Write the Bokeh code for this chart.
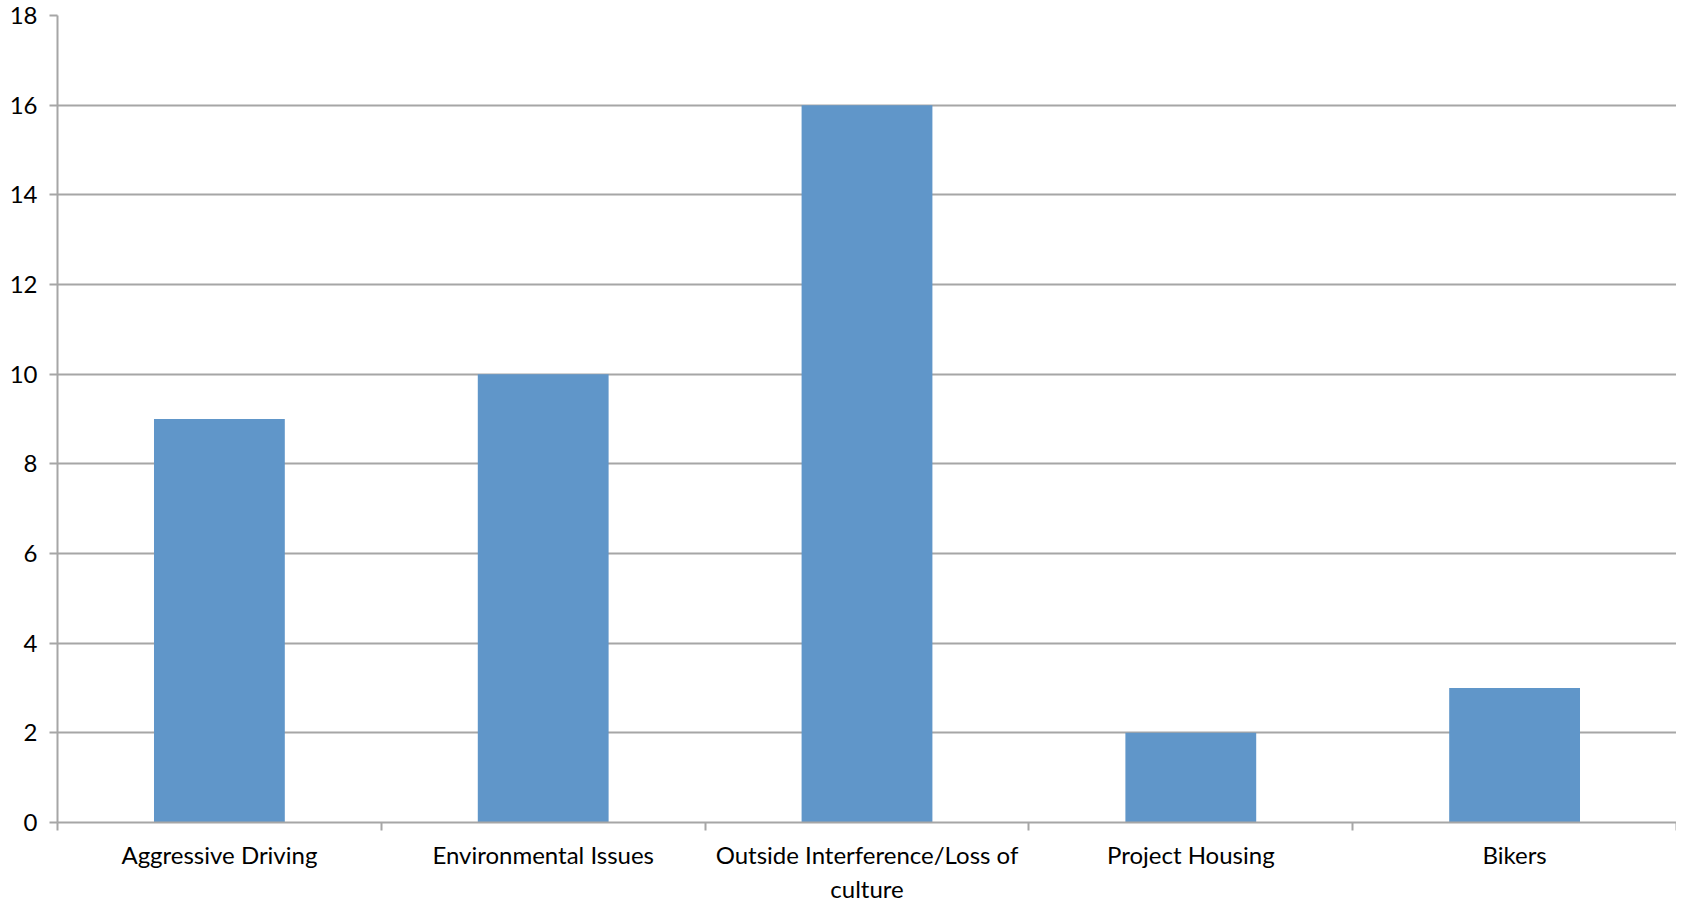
from bokeh.plotting import figure
from bokeh.models import FixedTicker, Range1d
from bokeh.embed import file_html
from bokeh.resources import INLINE

categories = ["Aggressive Driving", "Environmental Issues", "Outside Interference/Loss of\nculture",
              "Project Housing", "Bikers"]
values = [9, 10, 16, 2, 3]
y_ticks = [0, 2, 4, 6, 8, 10, 12, 14, 16, 18]

n = len(categories)
centers = [i + 0.5 for i in range(n)]
bounds = list(range(n + 1))

FONT = "Lato"
GRID = "#a6a6a6"

p = figure(width=1676, height=906, output_backend="svg", toolbar_location=None,
           x_range=Range1d(0, n), y_range=Range1d(0, 18),
           min_border_left=57, min_border_top=15, min_border_right=0, min_border_bottom=50)
p.outline_line_color = None

p.vbar(x=centers, top=values, width=0.404, bottom=0, color="#6096c9", line_color=None)

# x axis
xa = p.xaxis[0]
xa.ticker = FixedTicker(ticks=centers, minor_ticks=bounds)
xa.major_label_overrides = {c: lab for c, lab in zip(centers, categories)}
xa.major_tick_line_color = None
xa.major_tick_out = 0
xa.major_tick_in = 0
xa.minor_tick_out = 8
xa.minor_tick_in = 0
xa.minor_tick_line_color = GRID
xa.minor_tick_line_width = 2
xa.axis_line_color = GRID
xa.axis_line_width = 2
xa.major_label_text_font = FONT
xa.major_label_text_font_size = "24px"
xa.major_label_text_color = "#000000"
xa.major_label_standoff = 9

# y axis
ya = p.yaxis[0]
ya.ticker = FixedTicker(ticks=y_ticks)
ya.major_tick_out = 8
ya.major_tick_in = 0
ya.minor_tick_line_color = None
ya.major_tick_line_color = GRID
ya.major_tick_line_width = 2
ya.axis_line_color = GRID
ya.axis_line_width = 2
ya.major_label_text_font = FONT
ya.major_label_text_font_size = "24px"
ya.major_label_text_color = "#000000"
ya.major_label_standoff = 12

p.xgrid.grid_line_color = None
p.ygrid.ticker = FixedTicker(ticks=y_ticks)
p.ygrid.grid_line_color = GRID
p.ygrid.grid_line_width = 2

open("out.html", "w").write(file_html(p, INLINE))
